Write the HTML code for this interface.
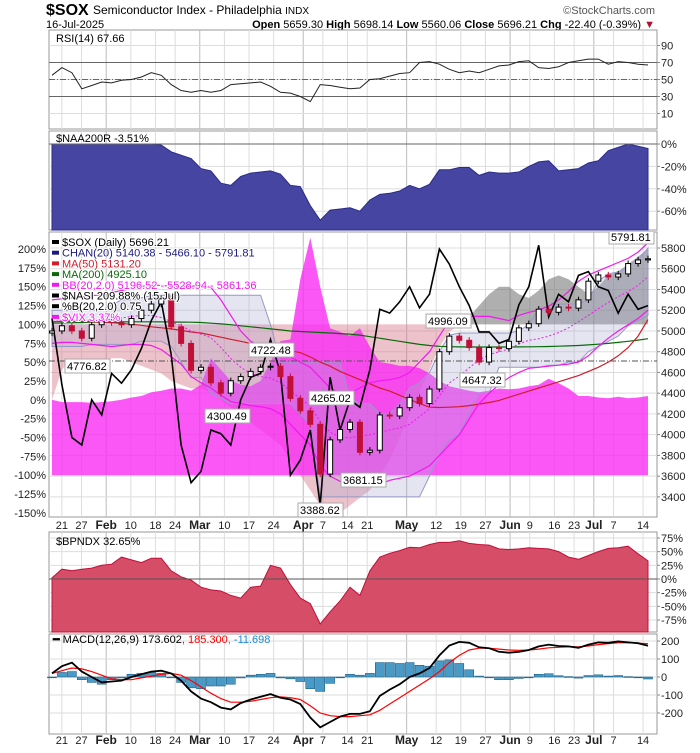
<!DOCTYPE html>
<html><head><meta charset="utf-8">
<style>
body{margin:0;background:#fff;width:700px;height:748px;overflow:hidden;font-family:"Liberation Sans",sans-serif}
svg text{font-family:"Liberation Sans",sans-serif}
</style></head><body>
<svg id="c" width="700" height="748" xmlns="http://www.w3.org/2000/svg">
<text x="46" y="15" font-size="16" font-weight="bold">$SOX</text>
<text x="93" y="14" font-size="12">Semiconductor Index - Philadelphia <tspan font-size="10">INDX</tspan></text>
<text x="655" y="14" font-size="11" fill="#555" text-anchor="end">©StockCharts.com</text>
<text x="46" y="28" font-size="11">16-Jul-2025</text>
<text x="655" y="28" font-size="11" text-anchor="end"><tspan font-weight="bold">Open</tspan> 5659.30 <tspan font-weight="bold">High</tspan> 5698.14 <tspan font-weight="bold">Low</tspan> 5560.06 <tspan font-weight="bold">Close</tspan> 5696.21 <tspan font-weight="bold">Chg</tspan> -22.40 (-0.39%) <tspan fill="#b01030">▼</tspan></text>
<g id="g"></g>
</svg>
<script>
// ---- data (sampled every 2 trading days, Jan 17 .. Jul 16) ----
const rsi=[55,64,58,39,43,47,46,49,50,53,58,55,44,37,35,37,35,37,44,45,46,47,42,35,34,30,24,44,43,41,39,40,50,51,54,57,58,70,71,68,62,58,60,58,62,66,67,71,72,64,63,65,70,72,74,74,68,71,70,68,67];
const naa=[0,0,0,0,0,0,0,0,0,0,0,-1,-7,-10,-13,-22,-24,-35,-37,-29,-26,-25,-24,-27,-37,-38,-55,-68,-59,-58,-57,-60,-50,-45,-44,-42,-37,-40,-36,-23,-23,-21,-21,-28,-25,-26,-26,-25,-20,-16,-15,-24,-23,-22,-17,-15,-6,-3,0,-2,-4];
const closes=[5000,5050,5000,4930,5060,5090,5080,5060,5120,5200,5260,5310,5040,4880,4620,4650,4500,4400,4520,4560,4610,4650,4660,4560,4350,4230,4100,3620,3950,4050,4120,3830,3850,4190,4180,4260,4360,4300,4440,4800,4950,4910,4840,4700,4840,4830,4900,5030,5070,5210,5180,5230,5220,5300,5480,5540,5520,5550,5650,5685,5696];
const ma50=[5090,5092,5093,5092,5090,5085,5080,5072,5065,5055,5040,5030,5020,5005,4990,4980,4960,4940,4920,4900,4880,4860,4845,4830,4810,4790,4750,4700,4660,4610,4570,4530,4490,4450,4420,4380,4340,4300,4265,4262,4265,4270,4280,4295,4310,4330,4360,4390,4420,4450,4480,4510,4540,4570,4610,4650,4700,4760,4840,4950,5110];
const ma200=[5075,5078,5080,5082,5084,5085,5086,5087,5088,5088,5088,5087,5086,5085,5084,5082,5075,5068,5060,5050,5040,5030,5020,5010,5000,4995,4990,4985,4980,4975,4970,4960,4945,4930,4915,4900,4885,4870,4860,4852,4848,4846,4845,4845,4845,4845,4845,4846,4847,4848,4850,4853,4856,4860,4866,4872,4880,4890,4900,4912,4925];
const bbUp=[5300,5310,5320,5330,5340,5350,5370,5390,5410,5430,5440,5440,5430,5420,5430,5440,5420,5300,5150,5000,4900,4850,4840,4800,4750,4700,4650,4550,4450,4400,4400,4450,4500,4520,4530,4550,4600,4700,4800,4950,5100,5130,5140,5140,5140,5120,5100,5150,5180,5200,5240,5300,5380,5480,5540,5580,5620,5660,5700,5760,5850];
const bbLo=[4880,4890,4890,4880,4870,4860,4850,4860,4870,4870,4860,4820,4750,4680,4560,4500,4450,4380,4320,4300,4280,4270,4250,4200,4100,4000,3900,3700,3600,3550,3540,3520,3500,3520,3560,3580,3600,3650,3700,3800,3900,4000,4150,4300,4400,4480,4550,4600,4640,4650,4660,4670,4680,4700,4760,4850,4930,5000,5060,5120,5200];
const bbMid=[5090,5100,5105,5105,5105,5105,5110,5125,5140,5150,5150,5130,5090,5050,5000,4970,4935,4840,4735,4650,4590,4560,4545,4500,4425,4350,4275,4125,4025,3975,3970,3985,4000,4020,4045,4065,4100,4175,4250,4375,4500,4565,4645,4720,4770,4800,4825,4875,4910,4925,4950,4985,5030,5090,5150,5215,5275,5330,5380,5440,5525];
const chanUp=[5200,5200,5200,5200,5200,5200,5250,5300,5300,5320,5340,5345,5345,5345,5345,5345,5345,5345,5345,5345,5345,5345,5060,4700,4700,4700,4700,4700,4700,4700,4350,4300,4300,4200,4200,4300,4450,4500,4600,4800,4960,4980,4980,4980,4980,4980,4980,5000,5060,5210,5240,5260,5260,5260,5300,5480,5550,5570,5620,5690,5800];
const chanLo=[4850,4850,4850,4850,4870,4870,4870,4870,4870,4900,4900,4900,4850,4700,4550,4550,4400,4350,4300,4300,4300,4300,4300,4300,4300,4200,4100,3400,3400,3400,3400,3400,3400,3400,3400,3400,3400,3400,3600,3800,3950,4000,4200,4400,4400,4650,4650,4650,4650,4650,4670,4670,4700,4700,4800,4850,4900,4950,5050,5100,5150];
const nasi=[0,40,55,45,45,50,55,55,50,45,40,35,25,20,15,15,10,0,-10,-20,-30,-40,-50,-60,-80,-100,-120,-140,-150,-150,-140,-130,-120,-100,-80,-50,-20,10,40,70,90,100,110,125,140,150,150,140,135,145,160,165,160,150,140,150,165,170,180,190,200];
const vix=[0,-3,-3,-3,-4,-3,-2,0,3,5,10,12,15,15,12,20,55,40,25,20,18,25,50,78,80,160,215,150,95,90,85,95,70,50,48,45,45,42,35,25,18,15,12,10,12,15,14,15,18,20,28,22,15,5,5,3,2,4,2,3,5];
const pctB=[108,20,-50,-60,0,-20,35,22,40,68,105,130,60,-60,-110,-95,-40,-45,-60,0,30,35,80,35,-100,-80,-40,-140,30,-40,0,-10,40,120,115,130,150,122,140,200,180,150,125,90,90,75,80,126,150,205,110,140,130,165,170,150,145,115,140,120,125];
const bpndx=[2,18,15,18,20,25,27,40,35,30,38,38,15,4,-2,-15,-20,-22,-30,-35,-15,-13,25,20,-10,-35,-45,-82,-60,-40,-15,-30,15,40,47,52,58,57,63,67,67,70,65,63,62,55,54,55,57,56,55,50,40,36,43,50,56,57,60,46,33];
const macd=[20,60,80,30,0,-30,-25,-20,0,15,30,35,20,-20,-80,-120,-140,-170,-180,-145,-125,-110,-95,-115,-125,-150,-225,-280,-250,-220,-205,-205,-190,-105,-70,-40,0,20,50,120,175,195,190,165,160,140,135,140,150,170,180,172,170,162,180,192,190,198,192,188,174];
const signal=[20,35,50,45,30,10,-10,-15,-15,-5,5,15,20,10,-20,-55,-90,-120,-140,-140,-135,-125,-115,-110,-115,-125,-160,-200,-215,-220,-220,-215,-210,-185,-150,-115,-80,-45,-10,30,80,120,150,160,160,155,150,148,150,155,162,165,168,168,172,180,185,190,190,188,185];
const hist=[0,25,30,-15,-30,-40,-15,-5,15,20,25,20,0,-30,-60,-65,-50,-50,-40,-5,10,15,20,-5,-10,-25,-65,-80,-35,0,15,10,20,80,80,75,80,65,60,90,95,75,40,5,0,-15,-15,-8,0,15,18,7,2,-6,8,12,5,8,2,0,-11];
const dateLabels=["21","27","Feb","10","18","24","Mar","10","17","24","Apr","7","14","21","May","12","19","27","Jun","9","16","23","Jul","7","14"];
const dateDays=[2,6,11,16,21,25,30,35,40,45,51,55,60,64,72,78,83,88,93,97,102,106,110,114,120];
const rsiTicks=[90,70,50,30,10];
const naaTicks=[0,-20,-40,-60];
const priceTicks=[5800,5600,5400,5200,5000,4800,4600,4400,4200,4000,3800,3600,3400];
const pctTicks=[200,175,150,125,100,75,50,25,0,-25,-50,-75,-100,-125,-150];
const bpTicks=[75,50,25,0,-25,-50,-75];
const macdTicks=[200,100,0,-100,-200];

const NS="http://www.w3.org/2000/svg";
const G=document.getElementById('g');
const L=49,R=657;
function el(tag,attrs,parent,txt){const e=document.createElementNS(NS,tag);for(const k in attrs)e.setAttribute(k,attrs[k]);if(txt!==undefined)e.textContent=txt;(parent||G).appendChild(e);return e;}
function xk(k,n){return 52+k*(596/(n-1));}
function xd(d){return 52+d*(596/121);}
function pts(arr,fy){return arr.map((v,i)=>xk(i,arr.length).toFixed(1)+','+fy(v).toFixed(1)).join(' ');}
function area(arr,fy,base){const n=arr.length;return xk(0,n)+','+base+' '+pts(arr,fy)+' '+xk(n-1,n)+','+base;}

function panel(name,top,bot){
  const f=el('rect',{x:L,y:top,width:R-L,height:bot-top,fill:'#fff',stroke:'#999','stroke-width':1});
  
  
  dateDays.forEach((d,i)=>{
    const isM=isNaN(+dateLabels[i]);
    const ln=el('line',{x1:xd(d),x2:xd(d),y1:top,y2:bot,stroke:isM?'#bbb':'#ddd','stroke-width':1});
    
    
  });
}
function hgrid(ticks,fy,top,bot,fmt){
  ticks.forEach(t=>{
    const y=fy(t);
    const ln=el('line',{x1:L,x2:R,y1:y,y2:y,stroke:'#ddd'});
    
    
    const tx=el('text',{x:R+4,y:y+4,'font-size':11,fill:'#222'},null,fmt(t));
    
    
    el('line',{x1:R,x2:R+3,y1:y,y2:y,stroke:'#888'});
  });
}
function dateAxis(y){
  dateLabels.forEach((s,i)=>{
    const isM=isNaN(+s);
    const t=el('text',{x:xd(dateDays[i]),y:y,'font-size':isM?12:11,'font-weight':isM?'bold':'normal','text-anchor':'middle',fill:'#222'},null,s);
    
    
  });
}
function legend(x,y,txt,color,name){
  const t=el('text',{x:x,y:y,'font-size':11,fill:color||'#000'},null,txt);
  
  
  return t;
}

// ---- RSI panel ----
const yR=v=>96.5-(v-30)*0.85;
panel('rsi-panel',30,129);
hgrid(rsiTicks,yR,30,129,t=>t);
[70,30].forEach(t=>el('line',{x1:L,x2:R,y1:yR(t),y2:yR(t),stroke:'#666'}));
el('line',{x1:L,x2:R,y1:yR(50),y2:yR(50),stroke:'#666','stroke-dasharray':'6,2,1,2'});
const rsiLine=el('polyline',{points:pts(rsi,yR),fill:'none',stroke:'#222','stroke-width':1});


legend(56,42,'RSI(14) 67.66','#000','rsi-legend');

// ---- NAA200R panel ----
const yN=v=>144-v*1.12;
panel('naa200r-panel',131,230);
hgrid(naaTicks,yN,131,230,t=>t+'%');
const naaA=el('polygon',{points:area(naa,yN,230),fill:'#4646a2',stroke:'#2a2a88'});


el('line',{x1:L,x2:R,y1:yN(0),y2:yN(0),stroke:'#666'});
legend(56,142,'$NAA200R -3.51%','#000','naa200r-legend');

// ---- Main panel ----
const yP=v=>248+(5800-v)*0.1037;
const yL=v=>249+(200-v)*0.754;
panel('price-panel',232,517);
const cp=el('clipPath',{id:'cm'});
el('rect',{x:L,y:232,width:R-L,height:285},cp);
hgrid(priceTicks,yP,232,517,t=>t);
pctTicks.forEach(t=>{const tx=el('text',{x:46,y:yL(t)+4,'font-size':11,'text-anchor':'end',fill:'#222'},null,t+'%');});
const M=el('g',{'clip-path':'url(#cm)'});
const nasiLo=el('polygon',{points:area(nasi.map(v=>Math.min(v,100)),yL,yL(100)),fill:'rgba(215,120,140,0.45)'},M);


const nasiHi=el('polygon',{points:area(nasi.map(v=>Math.max(v,100)),yL,yL(100)),fill:'rgba(110,110,110,0.55)'},M);


const vixA=el('polygon',{points:area(vix,yL,yL(-100)),fill:'rgba(250,40,245,0.78)'},M);


const chanPts=pts(chanUp,yP)+' '+chanLo.map((v,i)=>xk(i,chanLo.length).toFixed(1)+','+yP(v).toFixed(1)).reverse().join(' ');
const chanA=el('polygon',{points:chanPts,fill:'rgba(170,170,210,0.3)',stroke:'#9898c8','stroke-width':1},M);


el('line',{x1:L,x2:R,y1:361,y2:361,stroke:'#555','stroke-dasharray':'6,2,1,2'},M);
const ma200L=el('polyline',{points:pts(ma200,yP),fill:'none',stroke:'#0a6a0a','stroke-width':1.2},M);


const ma50L=el('polyline',{points:pts(ma50,yP),fill:'none',stroke:'#d01c2c','stroke-width':1.2},M);


const bu=el('polyline',{points:pts(bbUp,yP),fill:'none',stroke:'#f018f0','stroke-width':1.2},M);


const bl=el('polyline',{points:pts(bbLo,yP),fill:'none',stroke:'#f018f0','stroke-width':1.2},M);


const bm=el('polyline',{points:pts(bbMid,yP),fill:'none',stroke:'#f018f0','stroke-width':1,'stroke-dasharray':'2,2'},M);


const pb=el('polyline',{points:pts(pctB,yL),fill:'none',stroke:'#000','stroke-width':1.6},M);


closes.forEach((c,i)=>{
  const o=i?closes[i-1]:c-20,x=xk(i,closes.length);
  const up=c>=o,hi=Math.max(o,c)+30,lo=Math.min(o,c)-30;
  const col=up?'#000':'#c0103a';
  const w=el('line',{x1:x,x2:x,y1:yP(hi),y2:yP(lo),stroke:col},M);
  
  
  const b=el('rect',{x:x-2.5,y:yP(Math.max(o,c)),width:5,height:Math.max(1,Math.abs(yP(o)-yP(c))),fill:up?'#fff':'#c0103a',stroke:col},M);
  
  
});
[['5791.81',610,241],['4776.82',66,370],['4722.48',250,354],['4300.49',206,420],['4265.02',310,402],['4996.09',427,325],['3681.15',342,484],['4647.32',461,384],['3388.62',299,514]].forEach(a=>{
  const g=el('g',{},M);
  
  
  el('rect',{x:a[1]-1,y:a[2]-11,width:45,height:14,fill:'#fff',stroke:'#aaa'},g);
  el('text',{x:a[1]+1,y:a[2],'font-size':11},g,a[0]);
});
const lg=[['$SOX (Daily) 5696.21','#000'],['CHAN(20) 5140.38 - 5466.10 - 5791.81','#1a1a80'],['MA(50) 5131.20','#d01c2c'],['MA(200) 4925.10','#0a6a0a'],['BB(20,2.0) 5196.52 - 5528.94 - 5861.36','#f018f0'],['$NASI 209.88% (15 Jul)','#000'],['%B(20,2.0) 0.75','#000'],['$VIX 3.37%','#f018f0']];
lg.forEach((e,i)=>{
  const y=246+i*10.7;
  el('rect',{x:52,y:y-6,width:7,height:4,fill:e[1]});
  const t=legend(62,y,e[0],e[1],'legend-entry');
  t.setAttribute('stroke','#fff');t.setAttribute('stroke-width','2');t.setAttribute('paint-order','stroke');
});
dateAxis(529);

// ---- BPNDX panel ----
const yB=v=>579-v*0.547;
panel('bpndx-panel',532,632);
hgrid(bpTicks,yB,532,632,t=>t+'%');
const bpA=el('polygon',{points:area(bpndx,yB,632),fill:'#d64d68',stroke:'#c0103a'});


el('line',{x1:L,x2:R,y1:yB(0),y2:yB(0),stroke:'#555'});
legend(56,545,'$BPNDX 32.65%','#000','bpndx-legend');

// ---- MACD panel ----
const yM=v=>677-v*0.18;
panel('macd-panel',634,734);
hgrid(macdTicks,yM,634,734,t=>t);
hist.forEach((v,i)=>{
  const x=xk(i,hist.length);
  const b=el('rect',{x:x-4.5,y:Math.min(yM(v),yM(0)),width:9,height:Math.max(0.8,Math.abs(yM(v)-yM(0))),fill:'#4a9ac8',stroke:'#1e5f86','stroke-width':0.6});
  
  
});
const sg=el('polyline',{points:pts(signal,yM),fill:'none',stroke:'#f00','stroke-width':1.2});


const md=el('polyline',{points:pts(macd,yM),fill:'none',stroke:'#000','stroke-width':1.8});


const mt=legend(53,643,'','#000','macd-legend');
mt.innerHTML='<tspan font-weight="bold">━</tspan> MACD(12,26,9) 173.602<tspan fill="#f00">, 185.300</tspan><tspan fill="#1e8ad0">, -11.698</tspan>';
dateAxis(744);
</script>
</body></html>
